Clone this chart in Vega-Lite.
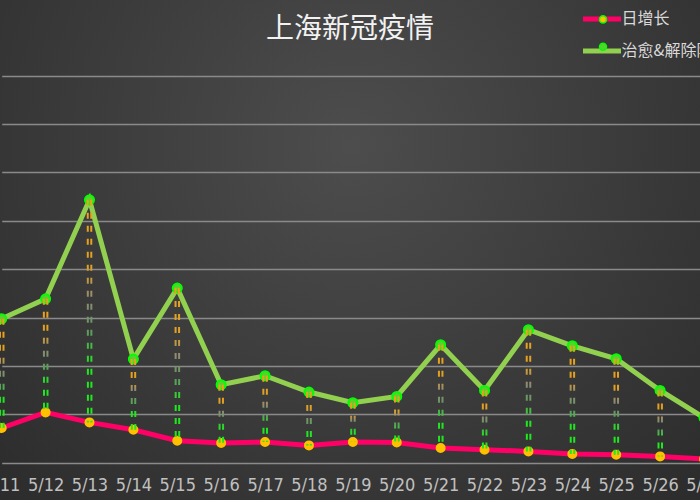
{
  "$schema": "https://vega.github.io/schema/vega-lite/v6.json",
  "width": 700,
  "height": 500,
  "autosize": {"type": "none"},
  "padding": 0,
  "background": "#333333",
  "view": {
    "stroke": null,
    "fill": {
      "gradient": "radial",
      "x1": 0.5, "y1": 0.35, "r1": 0,
      "x2": 0.5, "y2": 0.35, "r2": 0.75,
      "stops": [
        {"offset": 0, "color": "#4d4d4d"},
        {"offset": 1, "color": "#2a2a2a"}
      ]
    }
  },
  "title": {
    "text": "上海新冠疫情",
    "font": "Noto Sans CJK SC",
    "fontSize": 28,
    "fontWeight": "normal",
    "color": "#f2f2f2",
    "anchor": "middle",
    "frame": "group",
    "baseline": "alphabetic",
    "offset": -69
  },
  "data": {
    "values": [
      {"date": "5/11", "daily": 1434, "cured": 5950},
      {"date": "5/12", "daily": 2080, "cured": 6777},
      {"date": "5/13", "daily": 1666, "cured": 10867},
      {"date": "5/14", "daily": 1364, "cured": 4285},
      {"date": "5/15", "daily": 909, "cured": 7219},
      {"date": "5/16", "daily": 813, "cured": 3223},
      {"date": "5/17", "daily": 854, "cured": 3595},
      {"date": "5/18", "daily": 716, "cured": 2921},
      {"date": "5/19", "daily": 854, "cured": 2479},
      {"date": "5/20", "daily": 839, "cured": 2740},
      {"date": "5/21", "daily": 606, "cured": 4876},
      {"date": "5/22", "daily": 537, "cured": 2988},
      {"date": "5/23", "daily": 468, "cured": 5496},
      {"date": "5/24", "daily": 358, "cured": 4834},
      {"date": "5/25", "daily": 330, "cured": 4297},
      {"date": "5/26", "daily": 261, "cured": 2988},
      {"date": "5/27", "daily": 152, "cured": 1860}
    ]
  },
  "encoding": {
    "x": {
      "field": "date",
      "type": "nominal",
      "sort": null,
      "scale": {"type": "point", "range": [1.7, 704], "padding": 0},
      "axis": {
        "title": null,
        "labelAngle": 0,
        "domain": false,
        "ticks": false,
        "tickSize": 0,
        "labelPadding": 0,
        "offset": -24,
        "grid": false,
        "labelOverlap": false,
        "labelFont": "'Liberation Sans Narrow', 'DejaVu Sans Condensed', sans-serif",
        "labelFontSize": 18,
        "labelColor": "#c0c0c0"
      }
    }
  },
  "layer": [
    {
      "transform": [{"fold": ["cured", "daily"], "as": ["series", "value"]}],
      "mark": {"type": "line", "strokeWidth": 5},
      "encoding": {
        "y": {
          "field": "value",
          "type": "quantitative",
          "scale": {"domain": [-1542, 19130], "nice": false, "zero": false},
          "axis": {
            "title": null,
            "values": [0, 2000, 4000, 6000, 8000, 10000, 12000, 14000, 16000],
            "grid": true,
            "labels": false,
            "ticks": false,
            "domain": false,
            "gridColor": "#8a8a8a",
            "gridWidth": 1.5,
            "gridOpacity": 1
          }
        },
        "stroke": {
          "field": "series",
          "type": "nominal",
          "scale": {"domain": ["daily", "cured"], "range": ["#ff0066", "#92d050"]},
          "legend": {
            "orient": "none",
            "legendX": 580.5,
            "legendY": -2.6,
            "title": null,
            "padding": 0,
            "symbolType": "stroke",
            "symbolSize": 1444,
            "symbolStrokeWidth": 5,
            "labelFont": "Noto Sans CJK SC",
            "labelFontSize": 16,
            "labelColor": "#d9d9d9",
            "labelOffset": -2,
            "labelLimit": 500,
            "rowPadding": -2.7,
            "labelExpr": "datum.value === 'daily' ? '日增长' : '治愈&解除隔离'"
          }
        }
      }
    },
    {
      "transform": [{"fold": ["cured", "daily"], "as": ["series", "value"]}],
      "mark": {"type": "point", "filled": true, "opacity": 1, "strokeWidth": 2},
      "encoding": {
        "y": {
          "field": "value",
          "type": "quantitative",
          "scale": {"domain": [-1542, 19130], "nice": false, "zero": false},
          "axis": {
            "title": null,
            "values": [0, 2000, 4000, 6000, 8000, 10000, 12000, 14000, 16000],
            "grid": true,
            "labels": false,
            "ticks": false,
            "domain": false,
            "gridColor": "#8a8a8a",
            "gridWidth": 1.5,
            "gridOpacity": 1
          }
        },
        "fill": {
          "field": "series",
          "type": "nominal",
          "sort": "descending",
          "scale": {"range": ["#ffc000", "#5ad22d"]},
          "legend": {
            "orient": "none",
            "legendX": 595,
            "legendY": 11.4,
            "title": null,
            "padding": 0,
            "symbolType": "circle",
            "symbolSize": 50,
            "symbolStrokeWidth": 1.5,
            "labelFont": "Noto Sans CJK SC",
            "labelFontSize": 16,
            "labelColor": "transparent",
            "labelOffset": 0,
            "labelLimit": 500,
            "rowPadding": 11.3,
            "labelExpr": "datum.value === 'daily' ? '日增长' : '治愈&解除隔离'",
            "encode": {
              "symbols": {
                "update": {
                  "stroke": {"signal": "datum.value === 'daily' ? '#ffc000' : '#00ff00'"}
                }
              }
            }
          }
        },
        "stroke": {
          "condition": {"test": "datum.series === 'daily'", "value": "#ffc000"},
          "value": "#00ff00"
        },
        "size": {
          "condition": {"test": "datum.series === 'daily'", "value": 64},
          "value": 82
        }
      }
    },
    {
      "mark": {
        "type": "rule",
        "strokeWidth": 2,
        "strokeDash": [6, 7],
        "xOffset": -1.75,
        "x2Offset": -1.55,
        "stroke": {
          "gradient": "linear",
          "x1": 0, "y1": 0, "x2": 0, "y2": 1,
          "stops": [
            {"offset": 0, "color": "#eea21c"},
            {"offset": 0.3, "color": "#e0a020"},
            {"offset": 0.45, "color": "#8c8a76"},
            {"offset": 0.6, "color": "#5c9c5c"},
            {"offset": 0.75, "color": "#1ee81e"},
            {"offset": 1, "color": "#1ee81e"}
          ]
        }
      },
      "encoding": {
        "x2": {"field": "date"},
        "y": {
          "field": "cured",
          "type": "quantitative",
          "scale": {"domain": [-1542, 19130], "nice": false, "zero": false},
          "axis": {
            "title": null,
            "values": [0, 2000, 4000, 6000, 8000, 10000, 12000, 14000, 16000],
            "grid": true,
            "labels": false,
            "ticks": false,
            "domain": false,
            "gridColor": "#8a8a8a",
            "gridWidth": 1.5,
            "gridOpacity": 1
          }
        },
        "y2": {"field": "daily"}
      }
    },
    {
      "mark": {
        "type": "rule",
        "strokeWidth": 2,
        "strokeDash": [6, 7],
        "xOffset": 1.75,
        "x2Offset": 1.95,
        "stroke": {
          "gradient": "linear",
          "x1": 0, "y1": 0, "x2": 0, "y2": 1,
          "stops": [
            {"offset": 0, "color": "#eea21c"},
            {"offset": 0.3, "color": "#e0a020"},
            {"offset": 0.45, "color": "#8c8a76"},
            {"offset": 0.6, "color": "#5c9c5c"},
            {"offset": 0.75, "color": "#1ee81e"},
            {"offset": 1, "color": "#1ee81e"}
          ]
        }
      },
      "encoding": {
        "x2": {"field": "date"},
        "y": {
          "field": "cured",
          "type": "quantitative",
          "scale": {"domain": [-1542, 19130], "nice": false, "zero": false},
          "axis": {
            "title": null,
            "values": [0, 2000, 4000, 6000, 8000, 10000, 12000, 14000, 16000],
            "grid": true,
            "labels": false,
            "ticks": false,
            "domain": false,
            "gridColor": "#8a8a8a",
            "gridWidth": 1.5,
            "gridOpacity": 1
          }
        },
        "y2": {"field": "daily"}
      }
    }
  ]
}
